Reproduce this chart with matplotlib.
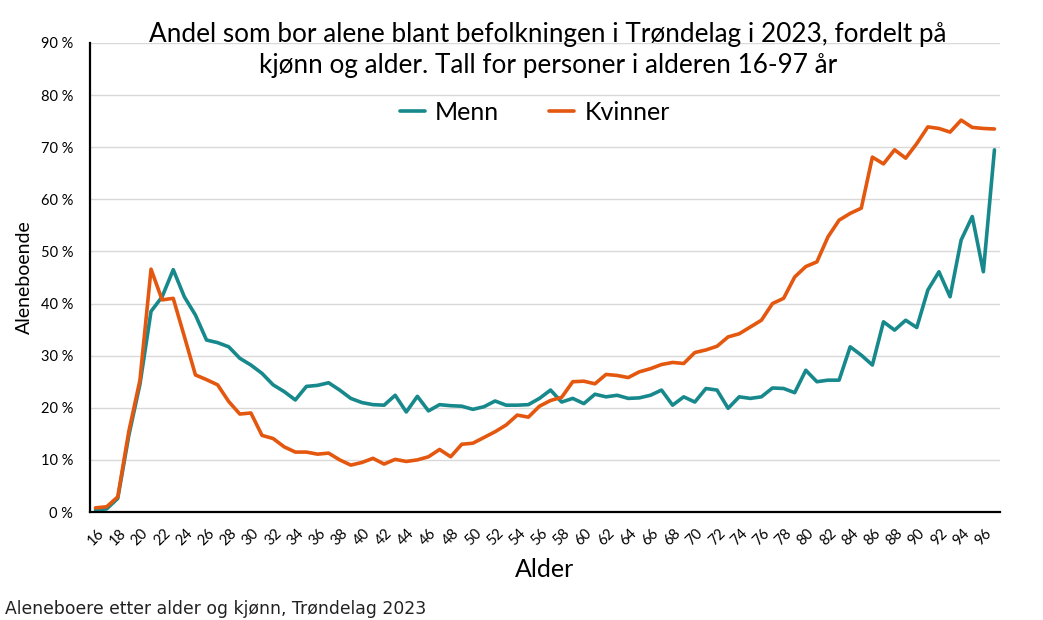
import matplotlib
matplotlib.use("Agg")
import matplotlib.pyplot as plt
from matplotlib.ticker import FuncFormatter

# alder 16-97
ages = list(range(16, 98))

# andel aleneboende, prosent
menn = [0.4, 0.6, 2.6, 14.7, 24.5, 38.5, 41.3, 46.5, 41.3, 37.8,
        33.0, 32.5, 31.7, 29.5, 28.2, 26.6, 24.4, 23.1, 21.5, 24.1,
        24.3, 24.8, 23.4, 21.8, 21.0, 20.6, 20.5, 22.4, 19.2, 22.2,
        19.4, 20.6, 20.4, 20.3, 19.7, 20.2, 21.3, 20.5, 20.5, 20.6,
        21.8, 23.4, 21.1, 21.8, 20.8, 22.6, 22.1, 22.4, 21.8, 21.9,
        22.4, 23.4, 20.5, 22.1, 21.1, 23.7, 23.4, 19.9, 22.1, 21.8,
        22.1, 23.8, 23.7, 22.9, 27.2, 25.0, 25.3, 25.3, 31.7, 30.1,
        28.2, 36.5, 34.9, 36.8, 35.4, 42.6, 46.1, 41.3, 52.2, 56.7,
        46.1, 69.5]
kvinner = [0.8, 1.0, 2.9, 15.5, 25.3, 46.6, 40.7, 41.0, 33.7, 26.3,
           25.4, 24.4, 21.2, 18.8, 19.0, 14.7, 14.1, 12.5, 11.5, 11.5,
           11.1, 11.3, 10.0, 9.0, 9.5, 10.3, 9.2, 10.1, 9.7, 10.0,
           10.6, 12.0, 10.6, 13.0, 13.2, 14.3, 15.4, 16.7, 18.6, 18.2,
           20.3, 21.4, 22.0, 25.0, 25.1, 24.6, 26.4, 26.2, 25.8, 26.9,
           27.5, 28.3, 28.7, 28.5, 30.6, 31.1, 31.8, 33.6, 34.2, 35.5,
           36.8, 40.0, 41.0, 45.1, 47.1, 48.0, 52.8, 56.0, 57.3, 58.3,
           68.1, 66.8, 69.5, 67.9, 70.7, 73.9, 73.6, 72.9, 75.2, 73.8,
           73.6, 73.5]

teal = "#17898c"
orange = "#e4570f"

plt.rcParams['font.family'] = ['Lato', 'DejaVu Sans']

fig = plt.figure(figsize=(10.43, 6.2), dpi=100)
ax = fig.add_axes([90/1043, 1-512/620, 910/1043, 469/620])

ax.plot(ages, [v/100 for v in menn], color=teal, lw=2.6, label="Menn",
        solid_joinstyle="round", solid_capstyle="round")
ax.plot(ages, [v/100 for v in kvinner], color=orange, lw=2.6, label="Kvinner",
        solid_joinstyle="round", solid_capstyle="round")

ax.set_xlim(15.5, 97.5)
ax.set_ylim(0, 0.9)
ax.set_yticks([i/10 for i in range(10)])
ax.yaxis.set_major_formatter(FuncFormatter(lambda v, p: f"{round(v*100)} %"))
ax.set_xticks(ages[::2])
ax.set_xticklabels([str(a) for a in ages[::2]], rotation=45, ha="center",
                   fontsize=10.5)
ax.tick_params(axis="y", labelsize=10.5, length=0, pad=12)
ax.tick_params(axis="x", length=0, pad=10)
ax.grid(axis="y", color="#d9d9d9", lw=1)
ax.set_axisbelow(True)
for s in ["top", "right"]:
    ax.spines[s].set_visible(False)
for s in ["left", "bottom"]:
    ax.spines[s].set_linewidth(1.6)

ax.set_ylabel("Aleneboende", fontsize=14, labelpad=6)
ax.set_xlabel("Alder", fontsize=18, labelpad=7)

ax.legend(loc="upper center", bbox_to_anchor=(0.489, 0.925), ncol=2,
          frameon=False, fontsize=18, handlelength=1.0, columnspacing=2.0,
          handletextpad=0.4)

fig.text(548/1043, 1-50/620,
         "Andel som bor alene blant befolkningen i Trøndelag i 2023, fordelt på\n"
         "kjønn og alder. Tall for personer i alderen 16-97 år",
         ha="center", va="center", fontsize=18.8, linespacing=1.3)

fig.text(5/1043, 1-609/620, "Aleneboere etter alder og kjønn, Trøndelag 2023",
         fontsize=12.4, family="DejaVu Sans", va="center", color="#222222")

fig.savefig("out.png", dpi=100)
